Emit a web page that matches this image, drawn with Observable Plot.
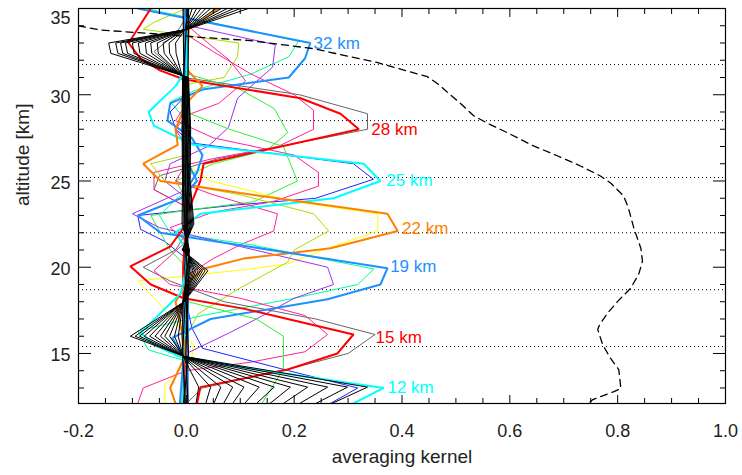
<!DOCTYPE html>
<html><head><meta charset="utf-8">
<script src="https://cdn.jsdelivr.net/npm/d3@7"></script>
<script src="https://cdn.jsdelivr.net/npm/@observablehq/plot@0.6"></script>
<style>body{margin:0;background:#fff}#chart{width:742px;height:475px}</style>
</head><body><div id="chart"></div>
<script>
// ---- axes ----
const xMajor = [-0.2, 0.0, 0.2, 0.4, 0.6, 0.8, 1.0];
const xMinor = [-0.15,-0.1,-0.05,0.05,0.1,0.15,0.25,0.3,0.35,0.45,0.5,0.55,0.65,0.7,0.75,0.85,0.9,0.95];
const yMajor = [15, 20, 25, 30, 35];
const yMinor = [13,14,16,17,18,19,21,22,23,24,26,27,28,29,31,32,33,34];
const layerAlts = [31.75, 28.5, 25.2, 22.0, 18.7, 15.4, 12.1];

// ---- measurement response (dashed) ----
const respValue = [-0.2,-0.159,-0.066,0.026,0.119,0.236,0.355,0.407,0.447,0.466,0.509,0.533,0.561,0.596,0.644,0.689,0.731,0.768,0.787,0.811,0.820,0.830,0.843,0.846,0.839,0.824,0.800,0.781,0.767,0.763,0.772,0.787,0.802,0.806,0.793,0.754,0.746];
const respAlt   = [34.0,33.75,33.55,33.33,33.14,32.67,31.86,31.40,31.05,30.64,29.48,28.78,28.31,27.79,27.03,26.45,25.87,25.29,24.88,24.13,23.43,22.27,21.10,20.35,19.59,18.78,18.02,17.33,16.69,16.40,15.52,14.71,14.07,12.97,12.79,12.33,12.1];

// ---- labelled kernels [value, altitude] ----
const ak32 = [[-0.09,35],[0.23,33.0],[0.22,32.1],[0.19,31.0],[0.03,30.3],[-0.03,29.5],[-0.035,28.5],[0.01,27.5],[0.03,26.5],[0.02,25.5],[0.0,24.5],[0.003,18],[0.002,12.1]];
const ak28 = [[-0.066,35],[-0.107,33.0],[-0.085,32.1],[-0.048,31.4],[-0.005,30.9],[0.212,29.8],[0.286,28.9],[0.32,28.0],[0.032,26.0],[0.026,25.0],[0.013,24.0],[0.0,23.0],[-0.006,20],[-0.004,12.1]];
const ak25 = [[0.004,35],[0.0,31.5],[-0.02,30.5],[-0.07,29.0],[-0.06,28.2],[0.013,27.1],[0.329,26.0],[0.36,25.0],[0.273,24.0],[0.026,23.1],[-0.02,22.0],[0.0,21.0],[-0.008,12.1]];
const ak22 = [[0.06,35],[0.005,33.8],[0.0,31.5],[0.03,30.5],[0.0,29.5],[-0.02,28.0],[-0.016,27.1],[-0.08,26.0],[-0.048,25.0],[0.1,24.3],[0.373,23.1],[0.392,22.1],[0.268,21.1],[0.106,20.5],[0.03,19.9],[0.0,19.0],[-0.02,18.0],[-0.01,16.5],[0.0,15.0],[-0.03,13.0],[-0.02,12.1]];
const ak19 = [[-0.003,35],[0.0,26.2],[0.02,25.0],[-0.01,24.0],[-0.09,23.0],[-0.048,22.0],[0.373,19.94],[0.36,19.0],[0.262,18.14],[0.045,17.0],[-0.026,15.9],[-0.005,14.8],[-0.012,12.1]];
const ak15 = [[0.002,35],[0.0,22.5],[-0.03,21.2],[-0.104,20.05],[-0.066,19.0],[-0.005,18.2],[0.106,17.6],[0.188,17.0],[0.31,16.1],[0.28,15.0],[0.188,14.07],[0.026,13.05],[0.02,12.1]];
const ak12 = [[0.001,35],[0.0,20.0],[-0.01,18.5],[-0.085,16.2],[-0.06,15.5],[-0.005,14.7],[0.366,13.0],[0.31,12.1]];

// ---- other kernels [value, altitude] ----
const sg32 = [[-0.075,35],[0.208,33.1],[0.19,32.2],[0.12,31.2],[0.02,30.3],[-0.03,29.6],[0.0,28.5],[0.003,12.1]];
const yg32 = [[0.0,35],[-0.06,34.2],[-0.08,33.8],[0.097,33.0],[0.095,32.2],[0.07,31.0],[0.0,30.6],[-0.01,29.5],[0.0,28.0],[0.002,12.1]];
const pu32 = [[0.0,35],[0.005,34.0],[0.165,32.9],[0.16,31.6],[0.095,29.8],[0.078,28.1],[0.04,27.0],[-0.03,26.0],[-0.04,25.0],[0.0,24.0],[0.002,12.1]];
const pk32 = [[0.0,35],[0.01,33.8],[0.04,33.0],[0.08,32.0],[0.11,30.8],[0.06,29.5],[0.0,28.8],[-0.02,28.0],[0.0,27.0],[-0.002,12.1]];
const gy28 = [[0.0,35],[0.0,34.5],[-0.02,33.5],[-0.06,32.5],[-0.005,31.0],[0.21,30.0],[0.336,28.9],[0.336,28.0],[0.06,26.3],[-0.05,25.3],[-0.06,24.5],[0.0,23.5],[0.0,12.1]];
const pk28 = [[0.0,35],[0.0,33.5],[0.05,32.5],[0.12,31.2],[0.2,30.0],[0.236,29.1],[0.236,28.0],[0.17,27.0],[0.05,26.3],[-0.06,25.5],[-0.06,24.5],[0.0,23.5],[0.003,12.1]];
const gr28 = [[0.0,35],[0.0,32.5],[0.003,31.2],[0.1,30.3],[0.163,29.2],[0.188,27.8],[0.15,26.8],[0.05,26.0],[-0.02,25.0],[0.0,24.0],[0.001,12.1]];
const bl25 = [[0.0,35],[0.0,30.0],[-0.03,29.0],[-0.02,28.0],[0.01,27.2],[0.31,26.0],[0.347,25.1],[0.24,24.0],[0.09,23.6],[-0.09,23.0],[-0.085,22.2],[-0.04,21.5],[0.0,20.5],[-0.003,12.1]];
const pk25 = [[0.0,35],[0.0,29.5],[-0.02,28.5],[0.05,27.5],[0.2,26.5],[0.245,25.5],[0.245,24.7],[0.16,23.8],[0.05,23.2],[-0.03,22.3],[0.0,21.5],[0.002,12.1]];
const gr25 = [[0.0,35],[0.0,29.0],[0.08,28.0],[0.18,27.0],[0.206,25.0],[0.125,23.8],[0.0,23.3],[-0.066,23.0],[-0.03,21.0],[0.0,20.0],[-0.001,12.1]];
const ye22 = [[0.0,35],[0.0,26.0],[0.045,25.0],[0.2,23.8],[0.355,23.1],[0.355,22.1],[0.262,21.1],[0.188,20.2],[0.12,19.9],[-0.09,19.2],[-0.05,17.9],[0.013,15.5],[0.01,14.7],[-0.04,13.2],[-0.04,12.1]];
const yg22 = [[0.0,35],[0.0,26.5],[-0.066,26.0],[-0.04,25.0],[0.1,24.2],[0.236,23.1],[0.264,22.1],[0.2,21.0],[0.188,20.3],[0.1,18.8],[0.022,17.3],[0.0,16.0],[0.002,12.1]];
const pk22 = [[0.0,35],[0.0,26.0],[-0.02,25.0],[0.05,24.2],[0.169,23.1],[0.162,22.1],[0.1,21.3],[0.05,20.5],[0.0,19.5],[0.0,12.1]];
const sg19 = [[0.0,35],[0.0,24.5],[-0.05,23.0],[-0.03,22.0],[0.12,21.3],[0.348,19.9],[0.318,19.0],[0.2,18.2],[0.03,17.2],[-0.09,16.3],[-0.07,15.2],[-0.005,14.6],[0.0,12.1]];
const pu19 = [[0.0,35],[0.0,24.5],[-0.1,23.1],[-0.05,22.3],[0.1,21.2],[0.262,20.0],[0.273,19.0],[0.2,18.2],[0.13,17.0],[0.08,16.2],[0.0,15.0],[-0.03,13.0],[-0.02,12.1]];
const gy15 = [[0.0,35],[0.0,22.0],[-0.02,21.0],[-0.08,20.0],[-0.03,19.2],[0.07,18.0],[0.24,17.0],[0.35,16.1],[0.30,15.0],[0.19,14.1],[0.03,13.0],[0.0,12.1]];
const pk15 = [[0.0,35],[0.0,21.5],[-0.06,19.8],[-0.03,19.0],[0.1,18.2],[0.22,17.2],[0.262,16.1],[0.22,15.1],[0.12,14.5],[0.0,14.0],[-0.08,13.0],[-0.09,12.1]];
const gr15 = [[0.0,35],[0.0,19.0],[0.003,18.0],[0.13,17.0],[0.18,16.0],[0.18,14.1],[0.14,12.1]];
const bl12 = [[0.0,35],[0.0,18.0],[0.01,16.5],[0.03,15.3],[0.19,14.0],[0.318,13.0],[0.267,12.1]];

// ---- black kernels: value of each of 12 lines at each node altitude ----
const blackAlts = [35, 33.8, 33.0, 32.4, 31.0, 28.0, 25.0, 22.5, 21.0, 19.8, 18.0, 16.0, 14.83, 13.05, 12.1];
const blackVals = [
  [0.115,0.1,0.088,0.076,0.065,0.055,0.045,0.036,0.027,0.019,0.011,0.004],
  [0.003,0.002,0.002,0.001,0.001,0,0,0,-0.001,-0.001,-0.002,-0.002],
  [-0.144,-0.131,-0.122,-0.113,-0.1,-0.089,-0.076,-0.066,-0.054,-0.043,-0.032,-0.02],
  [-0.14,-0.127,-0.118,-0.109,-0.097,-0.086,-0.074,-0.064,-0.052,-0.041,-0.031,-0.019],
  [0.004,0.003,0.002,0.001,0,-0.001,-0.002,-0.003,-0.004,-0.005,-0.006,-0.007],
  [0.008,0.007,0.006,0.004,0.003,0.001,0,-0.002,-0.003,-0.005,-0.006,-0.008],
  [0.007,0.006,0.004,0.003,0.002,0.001,-0.001,-0.002,-0.003,-0.005,-0.006,-0.007],
  [0.014,0.012,0.01,0.008,0.006,0.004,0.002,0,-0.002,-0.004,-0.006,-0.008],
  [-0.008,-0.007,-0.006,-0.005,-0.003,-0.002,0,0.001,0.002,0.003,0.005,0.006],
  [0.04,0.035,0.03,0.026,0.022,0.018,0.015,0.012,0.009,0.006,0.003,0.001],
  [-0.004,-0.004,-0.004,-0.005,-0.005,-0.005,-0.005,-0.005,-0.005,-0.006,-0.006,-0.006],
  [-0.104,-0.095,-0.087,-0.078,-0.068,-0.058,-0.048,-0.04,-0.031,-0.022,-0.015,-0.008],
  [-0.004,-0.004,-0.004,-0.005,-0.005,-0.005,-0.005,-0.005,-0.005,-0.006,-0.006,-0.006],
  [0.336,0.299,0.262,0.225,0.193,0.163,0.135,0.107,0.086,0.064,0.045,0.023],
  [0.27,0.24,0.21,0.18,0.155,0.13,0.108,0.086,0.069,0.051,0.036,0.018]
];
// near-zero black kernels forming the central band
const centerAlts = [35, 30, 25, 20, 15, 12.1];
const centerVals = [
  [0.004, -0.006, 0.002],
  [0.003, -0.004, -0.007],
  [-0.002, 0.004, -0.006],
  [0.005, -0.003, 0.001],
  [-0.001, 0.004, -0.007],
  [0.003, -0.005, -0.002]
];

// ---- kernel labels ----
const labelText  = ["32 km","28 km","25 km","22 km","19 km","15 km","12 km"];
const labelValue = [0.236, 0.343, 0.371, 0.400, 0.378, 0.351, 0.373];
const labelAlt   = [32.98, 27.98, 25.0, 22.27, 20.05, 15.93, 13.02];

// ---- styles ----
const DODGER="#1e90ff", RED="#ff0000", CYAN="#00ffff", ORANGE="#ff8000", YELLOW="#ffff00",
      YGREEN="#aadd00", GREEN="#33ee33", SPRING="#00ff99", BLUE="#2222ff", PURPLE="#a030f0",
      PINK="#ff2299", GRAY="#666666";
const thin = [[sg32,SPRING],[yg32,YGREEN],[pu32,PURPLE],[pk32,PINK],[gy28,GRAY],[pk28,PINK],[gr28,GREEN],
  [bl25,BLUE],[pk25,PINK],[gr25,GREEN],[ye22,YELLOW],[yg22,YGREEN],[pk22,PINK],[sg19,SPRING],[pu19,PURPLE],
  [gy15,GRAY],[pk15,PINK],[gr15,GREEN],[bl12,BLUE]];
const thick = [[ak32,DODGER],[ak28,RED],[ak25,CYAN],[ak22,ORANGE],[ak19,DODGER],[ak15,RED],[ak12,CYAN]];
const labelColors = [DODGER,RED,CYAN,ORANGE,DODGER,RED,CYAN];

const blackLines = d3.range(blackVals[0].length).map(i => blackAlts.map((a, j) => [blackVals[j][i], a]));
const centerLines = d3.range(centerVals[0].length).map(i => centerAlts.map((a, j) => [centerVals[j][i], a]));
const resp = respValue.map((v, i) => [v, respAlt[i]]);

const lineOpts = (c, w) => ({x: d => d[0], y: d => d[1], stroke: c, strokeWidth: w, clip: true, strokeLinejoin: "miter"});
const fmt = d => d.toFixed(1);

const marks = [
  Plot.ruleY(layerAlts, {stroke: "#000", strokeWidth: 1, strokeDasharray: "1,3"}),
  ...thin.map(([d, c]) => Plot.line(d, lineOpts(c, 1))),
  ...thick.map(([d, c]) => Plot.line(d, lineOpts(c, 2))),
  ...blackLines.map(d => Plot.line(d, lineOpts("#000", 1))),
  ...centerLines.map(d => Plot.line(d, lineOpts("#000", 1.2))),
  Plot.line(resp, {x: d => d[0], y: d => d[1], stroke: "#000", strokeWidth: 1.3, strokeDasharray: "7,5", clip: true}),
  ...labelText.map((t, i) => Plot.text([t], {x: () => labelValue[i], y: () => labelAlt[i], text: d => d, fill: labelColors[i], textAnchor: "start", fontSize: 17})),
  Plot.frame({stroke: "#000", strokeWidth: 1.2}),
  // inward ticks
  Plot.axisX(xMajor, {anchor: "bottom", tickSize: -8, tickFormat: () => "", label: null}),
  Plot.axisX(xMinor, {anchor: "bottom", tickSize: -5, tickFormat: () => "", label: null}),
  Plot.axisX(xMajor, {anchor: "top", tickSize: -8, tickFormat: () => "", label: null}),
  Plot.axisX(xMinor, {anchor: "top", tickSize: -5, tickFormat: () => "", label: null}),
  Plot.axisY(yMajor, {anchor: "left", tickSize: -13, tickFormat: () => "", label: null}),
  Plot.axisY(yMinor, {anchor: "left", tickSize: -6, tickFormat: () => "", label: null}),
  Plot.axisY(yMajor, {anchor: "right", tickSize: -13, tickFormat: () => "", label: null}),
  Plot.axisY(yMinor, {anchor: "right", tickSize: -6, tickFormat: () => "", label: null}),
  // labels
  Plot.axisX(xMajor, {anchor: "bottom", tickSize: 0, tickPadding: 21, tickFormat: fmt, fontSize: 18, fill: "#222", label: null}),
  Plot.axisY(yMajor.slice(0, 4), {anchor: "left", tickSize: 0, tickPadding: 8, tickFormat: d => String(d), fontSize: 18, fill: "#222", label: null, dy: 2}),
  Plot.axisY(yMajor.slice(4), {anchor: "left", tickSize: 0, tickPadding: 8, tickFormat: d => String(d), fontSize: 18, fill: "#222", label: null, dy: 10}),
  Plot.text(["averaging kernel"], {frameAnchor: "bottom", dy: 59, fontSize: 19, fill: "#222"}),
  Plot.text(["altitude [km]"], {frameAnchor: "left", dx: -56, rotate: -90, fontSize: 19, fill: "#222"})
];

const chart = Plot.plot({
  width: 742, height: 475,
  marginLeft: 78, marginRight: 17, marginTop: 8, marginBottom: 72,
  x: {domain: [-0.2, 1.0]},
  y: {domain: [12.1, 35]},
  style: {fontFamily: "'Liberation Sans', Arial, Helvetica, sans-serif", background: "#fff", overflow: "visible"},
  marks
});
document.getElementById("chart").appendChild(chart);
</script>
</body></html>
